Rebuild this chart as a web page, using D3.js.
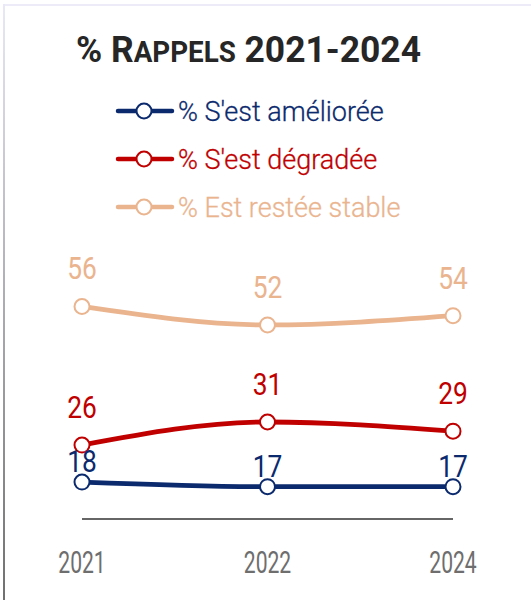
<!DOCTYPE html>
<html>
<head>
<meta charset="utf-8">
<script src="https://cdn.jsdelivr.net/npm/d3@7"></script>
<style>
  body { margin: 0; background: #fff; }
  svg { display: block; }
</style>
</head>
<body>
<svg width="531" height="600"></svg>
<script>
// data
var years = ["2021", "2022", "2024"];
var ameliore = [18, 17, 17];
var degrade = [26, 31, 29];
var stable = [56, 52, 54];
var seriesNames = ["% S'est améliorée", "% S'est dégradée", "% Est restée stable"];
var seriesColors = ["#0b2a6e", "#c00000", "#eab48f"];

var series = [
    {name: seriesNames[0], color: seriesColors[0], values: ameliore, lift: 10},
    {name: seriesNames[1], color: seriesColors[1], values: degrade, lift: 27},
    {name: seriesNames[2], color: seriesColors[2], values: stable, lift: 27}
];

var svg = d3.select("svg");

// frame (light top rule, left rule darkening downwards)
var grad = svg.append("defs").append("linearGradient")
    .attr("id", "edge").attr("x1", 0).attr("y1", 0).attr("x2", 0).attr("y2", 1);
grad.append("stop").attr("offset", "0%").attr("stop-color", "#e9e8f6");
grad.append("stop").attr("offset", "100%").attr("stop-color", "#707070");

svg.append("rect")
    .attr("x", 3).attr("y", 4).attr("width", 528).attr("height", 2)
    .attr("fill", "#ecebf7");
svg.append("rect")
    .attr("x", 3).attr("y", 4).attr("width", 2).attr("height", 596)
    .attr("fill", "url(#edge)");

// title
var title = svg.append("text")
    .attr("x", 76).attr("y", 62)
    .attr("font-family", "Roboto, 'DejaVu Sans', sans-serif")
    .attr("font-weight", 700)
    .attr("font-size", 37)
    .attr("fill", "#262626")
    .attr("textLength", 345)
    .attr("lengthAdjust", "spacingAndGlyphs");
title.append("tspan").text("% R");
title.append("tspan").attr("font-size", 29).text("APPELS");
title.append("tspan").text(" 2021-2024");

// legend
var legend = svg.append("g");
var legendRows = [111, 159, 207];
series.forEach(function(s, i) {
    var row = legend.append("g").attr("transform", "translate(0," + legendRows[i] + ")");
    row.append("line")
        .attr("x1", 118).attr("x2", 172).attr("y1", 0).attr("y2", 0)
        .attr("stroke", s.color).attr("stroke-width", 4.5).attr("stroke-linecap", "round");
    row.append("circle")
        .attr("cx", 144).attr("cy", 0).attr("r", 7.5)
        .attr("fill", "#fff").attr("stroke", s.color).attr("stroke-width", 2);
    row.append("text")
        .attr("x", 178).attr("y", 10)
        .attr("font-family", "Roboto, 'Noto Sans', sans-serif")
        .attr("font-weight", 300)
        .attr("font-size", 27)
        .attr("fill", s.color)
        .attr("stroke", s.color)
        .attr("stroke-width", 0.3)
        .text(s.name);
});

// scales
var x = d3.scalePoint().domain(years).range([82, 453]);
var y = d3.scaleLinear().domain([10, 60]).range([519, 288]);

// baseline
svg.append("line")
    .attr("x1", x(years[0])).attr("x2", x(years[years.length - 1]))
    .attr("y1", y(10)).attr("y2", y(10))
    .attr("stroke", "#333").attr("stroke-width", 1.5);

// x labels, narrowed to mimic a condensed face
svg.append("g").selectAll("text")
    .data(years)
    .enter().append("text")
    .attr("transform", function(d) { return "translate(" + x(d) + ",573) scale(0.66,1)"; })
    .attr("text-anchor", "middle")
    .attr("font-family", "Roboto, sans-serif")
    .attr("font-weight", 400)
    .attr("font-size", 32)
    .attr("fill", "#6e6e6e")
    .text(function(d) { return d; });

var line = d3.line()
    .x(function(d, i) { return x(years[i]); })
    .y(function(d) { return y(d); })
    .curve(d3.curveMonotoneX);

// draw top series first so lower labels sit on top as in the reference
var order = [2, 1, 0];
order.forEach(function(k) {
    var s = series[k];
    var g = svg.append("g");
    g.append("path")
        .datum(s.values)
        .attr("fill", "none")
        .attr("stroke", s.color)
        .attr("stroke-width", 4.8)
        .attr("d", line);
    g.selectAll("circle")
        .data(s.values)
        .enter().append("circle")
        .attr("cx", function(d, i) { return x(years[i]); })
        .attr("cy", function(d) { return y(d); })
        .attr("r", 7.5)
        .attr("fill", "#fff")
        .attr("stroke", s.color)
        .attr("stroke-width", 2);
    g.selectAll("text")
        .data(s.values)
        .enter().append("text")
        .attr("transform", function(d, i) {
            return "translate(" + x(years[i]) + "," + (y(d) - s.lift) + ") scale(0.85,1)";
        })
        .attr("text-anchor", "middle")
        .attr("font-family", "Roboto, sans-serif")
        .attr("font-weight", 400)
        .attr("font-size", 31)
        .attr("fill", s.color)
        .text(function(d) { return d; });
});
</script>
</body>
</html>
